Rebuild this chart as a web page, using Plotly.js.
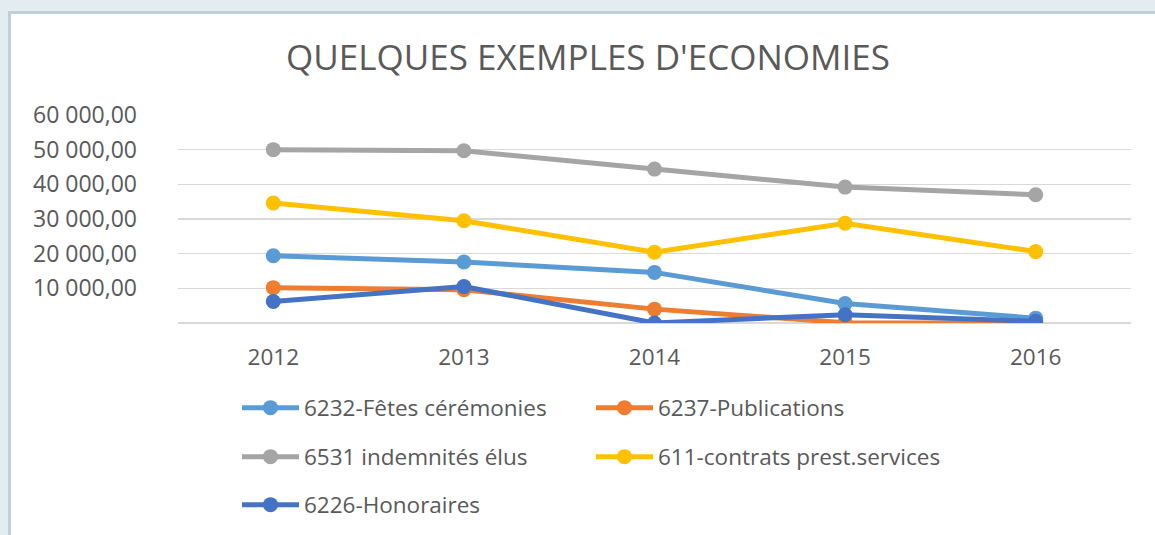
<!DOCTYPE html>
<html>
<head>
<meta charset="utf-8">
<script src="https://cdn.plot.ly/plotly-3.0.1.min.js"></script>
<style>
  html, body { margin: 0; padding: 0; background: #e3ecf0; overflow: hidden; }
  #panel { position: absolute; left: 8px; top: 11px; width: 1147px; height: 524px;
           background: #ffffff; border-left: 3px solid #bfd0d8; border-top: 3px solid #bfd0d8; }
  #chart { position: absolute; left: 0; top: 0; width: 1155px; height: 535px; }
</style>
</head>
<body>
<div id="panel"></div>
<div id="chart"></div>
<script>
let years = ["2012", "2013", "2014", "2015", "2016"];

let fetesCeremonies = [19400, 17600, 14600, 5600, 1400];
let publications = [10200, 9600, 4000, 100, 0];
let indemnitesElus = [50000, 49700, 44400, 39200, 37000];
let contratsPrest = [34600, 29500, 20400, 28800, 20600];
let honoraires = [6200, 10500, 0, 2400, 500];

let seriesNames = ["6232-Fêtes cérémonies", "6237-Publications", "6531 indemnités élus",
  "611-contrats prest.services", "6226-Honoraires"];
let yTickVals = [10000, 20000, 30000, 40000, 50000, 60000];
let yTickText = ["10 000,00", "20 000,00", "30 000,00", "40 000,00", "50 000,00", "60 000,00"];

let colors = ["#5b9bd5", "#ed7d31", "#a5a5a5", "#ffc000", "#4472c4"];
let legendIds = ["legend", "legend", "legend2", "legend2", "legend3"];
let allValues = [fetesCeremonies, publications, indemnitesElus, contratsPrest, honoraires];

let fontColor = "#595959";
let fontFamily = "Open Sans, sans-serif";

let lineData = allValues.map(function(values, i) {
  return {
    x: years,
    y: values,
    name: seriesNames[i],
    type: "scatter",
    mode: "lines+markers",
    legend: legendIds[i],
    line: { color: colors[i], width: 5 },
    marker: { color: colors[i], size: 15 },
    hoverinfo: "skip"
  };
});

function makeLegend(yPos) {
  return {
    orientation: "h",
    xref: "container",
    yref: "container",
    x: 237 / 1155,
    y: yPos,
    xanchor: "left",
    yanchor: "middle",
    entrywidth: 282,
    itemwidth: 57,
    bgcolor: "rgba(0,0,0,0)",
    font: { family: fontFamily, size: 22.5, color: fontColor }
  };
}

let lineLayout = {
  width: 1155,
  height: 535,
  paper_bgcolor: "rgba(0,0,0,0)",
  plot_bgcolor: "rgba(0,0,0,0)",
  font: { family: fontFamily, color: fontColor },
  title: {
    text: "QUELQUES EXEMPLES D'ECONOMIES",
    xref: "container",
    yref: "container",
    x: 588 / 1155,
    y: 1 - 58 / 535,
    xanchor: "center",
    yanchor: "middle",
    font: { family: fontFamily, size: 35, color: fontColor }
  },
  margin: { l: 178, r: 24, t: 115, b: 212 },
  xaxis: {
    type: "category",
    range: [-0.5, 4.5],
    showgrid: false,
    zeroline: false,
    showline: false,
    ticks: "",
    ticklabelstandoff: 18,
    tickfont: { family: fontFamily, size: 22.5, color: fontColor }
  },
  yaxis: {
    range: [0, 60000],
    tickvals: yTickVals,
    ticktext: yTickText,
    showgrid: true,
    gridcolor: "#d9d9d9",
    gridwidth: 1.5,
    zeroline: true,
    zerolinecolor: "#d9d9d9",
    zerolinewidth: 1.5,
    showline: false,
    ticks: "",
    ticklabelstandoff: 40,
    tickfont: { family: fontFamily, size: 23, color: fontColor }
  },
  showlegend: true,
  legend: makeLegend(1 - 408 / 535),
  legend2: makeLegend(1 - 457 / 535),
  legend3: makeLegend(1 - 505 / 535)
};

Plotly.newPlot("chart", lineData, lineLayout, { displayModeBar: false, staticPlot: true });
</script>
</body>
</html>
